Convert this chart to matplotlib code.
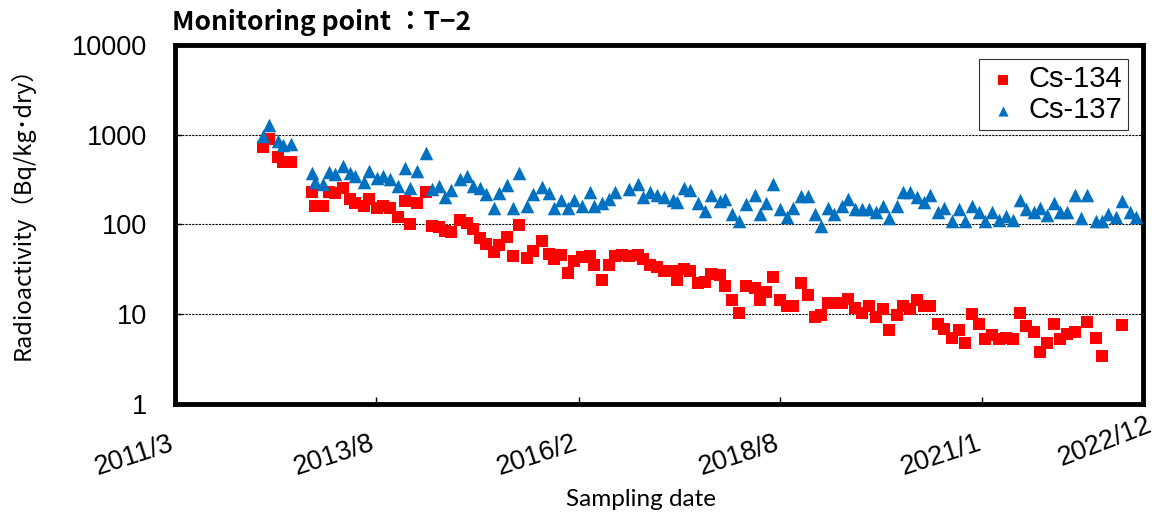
import numpy as np
import matplotlib
matplotlib.use("Agg")
import matplotlib.pyplot as plt
from matplotlib.ticker import NullLocator, FixedLocator, FixedFormatter
from matplotlib.transforms import ScaledTranslation

# sampling dates as decimal years, with the two nuclides measured on each date
sample_year = [
    2012.24, 2012.32, 2012.43, 2012.49, 2012.59,
    2012.84, 2012.88, 2012.97, 2013.05, 2013.12, 2013.22, 2013.30, 2013.37, 2013.47,
    2013.54, 2013.63, 2013.71, 2013.79, 2013.89, 2013.97, 2014.04, 2014.12,
    2014.23, 2014.30, 2014.39, 2014.46, 2014.54, 2014.64, 2014.73, 2014.80, 2014.89,
    2014.96, 2015.06, 2015.12, 2015.22, 2015.29, 2015.37, 2015.46, 2015.54, 2015.64,
    2015.73, 2015.79, 2015.88, 2015.96, 2016.04, 2016.13, 2016.23, 2016.28, 2016.38,
    2016.46, 2016.54,
    2016.62, 2016.71, 2016.81, 2016.88, 2016.96, 2017.05, 2017.13, 2017.24, 2017.29,
    2017.37, 2017.45, 2017.55, 2017.63, 2017.71, 2017.81, 2017.88, 2017.96, 2018.05,
    2018.13, 2018.24, 2018.30, 2018.38, 2018.46, 2018.55, 2018.63, 2018.71, 2018.80,
    2018.89, 2018.97, 2019.05, 2019.13, 2019.21, 2019.30, 2019.38, 2019.46, 2019.54,
    2019.63, 2019.72, 2019.80, 2019.87, 2019.97, 2020.05, 2020.13, 2020.21, 2020.30,
    2020.38, 2020.47, 2020.55, 2020.64, 2020.73, 2020.80, 2020.89, 2020.97, 2021.05,
    2021.13, 2021.22, 2021.30, 2021.39, 2021.47, 2021.54, 2021.64, 2021.71, 2021.80,
    2021.89, 2021.96, 2022.05, 2022.14, 2022.21, 2022.29, 2022.40, 2022.47, 2022.55,
    2022.64, 2022.72, 2022.81, 2022.89,
]

nan = np.nan
cs134 = [
    725, 890, 570, 500, 493,
    232, 162, 162, 232, 223, 257, 191, 172, 162,
    192, 152, 162, 154, 122, 184, 100, 172,
    232, 97, 93, 84, 82, 112, 105, 88, 70,
    61, 49, 59, 72, 45, 99, 42, 51, 65,
    47, 41, 46, 29, 39, 43, 45, 35, 24,
    35, 44,
    46, 45, 46, 41, 35.5, 34, 30, 30, 24,
    32, 30, 22, 23, 28, 27.7, 20.8, 14.4, 10.2,
    20.6, 19.5, 14.4, 17.6, 25.8, 14.4, 12.3, 12.3, 22.4,
    16.4, 9.2, 9.8, 13.2, 13.2, 13.2, 14.7, 11.8, 10.4,
    12.4, 9.4, 11.3, 6.7, 9.8, 12.3, 11.3, 14.4, 12.3,
    12.3, 7.7, 6.8, 5.4, 6.7, 4.8, 10.1, 7.7, 5.3,
    5.9, 5.3, 5.4, 5.3, 10.2, 7.4, 6.4, 3.8, 4.8,
    7.8, 5.25, 6.0, 6.4, nan, 8.3, 5.5, 3.45, nan,
    nan, 7.6, nan, nan,
]

cs137 = [
    970, 1290, 860, 770, 790,
    378, 300, 283, 388, 365, 449, 372, 350, 300,
    395, 327, 347, 318, 268, 430, 257, 395,
    630, 246, 270, 204, 242, 318, 345, 266, 252,
    220, 152, 223, 272, 152, 372, 162, 220, 259,
    223, 152, 189, 152, 189, 161, 230, 161, 172,
    191, 231,
    nan, 246, 285, 202, 232, 213, 200, 187, 180,
    252, 242, 172, 140, 213, 182, 191, 130, 110,
    170, 213, 130, 172, 285, 150, 120, 152, 210,
    210, 130, 96, 152, 130, 161, 193, 148, 150,
    150, 139, 161, 118, 161, 230, 230, 202, 180,
    213, 139, 152, 110, 148, 110, 161, 139, 108,
    139, 111, 123, 111, 189, 147, 139, 152, 129,
    172, 139, 139, 213, 118, 213, 109, 109, 132,
    120, 183, 139, 120,
]

x_tick_pos = [2011.17, 2013.62, 2016.09, 2018.55, 2021.01, 2022.97]
x_tick_labels = ["2011/3", "2013/8", "2016/2", "2018/8", "2021/1", "2022/12"]
y_ticks = [1, 10, 100, 1000, 10000]

fig = plt.figure(figsize=(11.64, 5.22), dpi=100)
ax = fig.add_axes([0.1503, 0.226, 0.8316, 0.688])

ax.scatter(sample_year, cs134, marker="s", s=80, color="#FF0000", linewidths=0,
           zorder=3, label="Cs-134")
ax.scatter(sample_year, cs137, marker="^", s=95, color="#0070C0", linewidths=0,
           zorder=4, label="Cs-137")

ax.set_yscale("log")
ax.set_ylim(1, 10000)
ax.set_xlim(x_tick_pos[0], x_tick_pos[-1])
ax.yaxis.set_major_locator(FixedLocator(y_ticks))
ax.yaxis.set_major_formatter(FixedFormatter([str(v) for v in y_ticks]))
ax.yaxis.set_minor_locator(NullLocator())
ax.xaxis.set_major_locator(FixedLocator(x_tick_pos))
ax.xaxis.set_major_formatter(FixedFormatter(x_tick_labels))

ax.grid(axis="y", which="major", color="black", linestyle=(0, (2, 1)), linewidth=0.8)
ax.set_axisbelow(True)

for sp in ax.spines.values():
    sp.set_linewidth(3.5)
    sp.set_color("black")

ax.tick_params(axis="y", direction="in", length=5, width=1, pad=20,
               labelsize=19.5, labelfontfamily="Liberation Sans")
ax.tick_params(axis="x", direction="in", length=5, width=1, pad=19,
               labelsize=19.5, labelfontfamily="Liberation Sans")
shift_left = ScaledTranslation(-0.06, 0, fig.dpi_scale_trans)
for lab in ax.get_xticklabels():
    lab.set_rotation(18)
    lab.set_ha("right")
    lab.set_va("top")
    lab.set_rotation_mode("anchor")
    lab.set_transform(lab.get_transform() + shift_left)
last = ax.get_xticklabels()[-1]
last.set_rotation(21)
last.set_transform(last.get_transform() + ScaledTranslation(0.09, 0.18, fig.dpi_scale_trans))

leg = ax.legend(loc="upper right", frameon=True, fancybox=False,
                edgecolor="black", borderpad=0.2, handlelength=1.2,
                handletextpad=0.3, labelspacing=0.1, markerscale=0.75,
                borderaxespad=0.5, prop={"family": "Liberation Sans", "size": 21})
leg.get_frame().set_linewidth(0.8)

fig.text(172 / 1164, 1 - 23 / 522, "Monitoring point ：T−2", fontsize=19,
         fontweight="bold", family=["Noto Sans CJK JP", "DejaVu Sans"],
         ha="left", va="center")
fig.text(22 / 1164, 1 - 208 / 522, "Radioactivity（Bq/kg･dry）", fontsize=17,
         family=["Noto Sans CJK JP", "DejaVu Sans"], rotation=90,
         ha="center", va="center")
fig.text(641 / 1164, 1 - 500 / 522, "Sampling date", fontsize=17.5, family="Lato",
         ha="center", va="center")

fig.savefig("out.png", dpi=100)
